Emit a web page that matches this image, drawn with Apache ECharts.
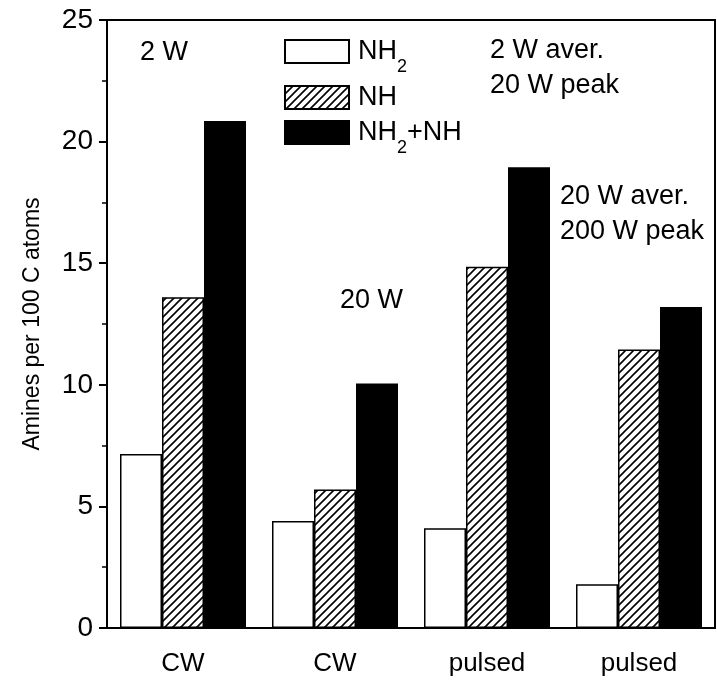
<!DOCTYPE html>
<html>
<head>
<meta charset="utf-8">
<script src="https://cdn.jsdelivr.net/npm/echarts@6/dist/echarts.min.js"></script>
<style>
	html, body { margin: 0; padding: 0; background: #fff; }
	#chart { width: 717px; height: 686px; }
</style>
</head>
<body>
<div id="chart"></div>
<script>
// values
var categories = ['CW', 'CW', 'pulsed', 'pulsed'];
var nh2 = [7.15, 4.4, 4.1, 1.8];
var nh = [13.6, 5.7, 14.85, 11.45];
var nh2PlusNh = [20.85, 10.05, 18.95, 13.2];
var yTicks = [0, 5, 10, 15, 20, 25];

var AmineChart = {
	init : function() {
		var chart = echarts.init(document.getElementById('chart'));
		chart.setOption(AmineChart.buildOption(), true);
	},
	/**
	 * diagonal hatch used for the NH bars
	 */
	hatch : function() {
		var c = document.createElement('canvas');
		c.width = 8;
		c.height = 8;
		var ctx = c.getContext('2d');
		ctx.fillStyle = '#fff';
		ctx.fillRect(0, 0, 8, 8);
		ctx.strokeStyle = '#000';
		ctx.lineWidth = 1.6;
		ctx.beginPath();
		ctx.moveTo(-2, 10); ctx.lineTo(10, -2);
		ctx.moveTo(-6, 6); ctx.lineTo(6, -6);
		ctx.moveTo(2, 14); ctx.lineTo(14, 2);
		ctx.stroke();
		return { image : c, repeat : 'repeat' };
	},
	legend : function(name, top) {
		return {
			data : [ name ],
			icon : 'rect',
			left : 284,
			top : top,
			padding : 0,
			itemWidth : 64,
			itemHeight : 23,
			textStyle : {
				fontFamily : 'Liberation Sans, Arial',
				fontSize : 27,
				color : '#000',
				padding : [ 0, 0, 0, 4 ],
				rich : {
					s : { fontSize : 18, fontFamily : 'Liberation Sans, Arial', padding : [ 32, 0, 0, 0 ] }
				}
			},
			formatter : function(n) {
				if (n === 'NH2') return 'NH{s|2}';
				if (n === 'NH2+NH') return 'NH{s|2}+NH';
				return n;
			}
		};
	},
	note : function(text, x, y) {
		return {
			type : 'text',
			left : x,
			top : y,
			style : {
				text : text,
				font : '27px "Liberation Sans", Arial',
				fill : '#000',
				lineHeight : 35
			}
		};
	},
	buildOption : function() {
		var font = 'Liberation Sans, Arial';
		var option = {
			animation : false,
			grid : {
				left : 107,
				right : 2,
				top : 20,
				bottom : 58,
				show : true,
				borderColor : '#000',
				borderWidth : 2
			},
			legend : [
				AmineChart.legend('NH2', 38),
				AmineChart.legend('NH', 84),
				AmineChart.legend('NH2+NH', 119)
			],
			xAxis : {
				type : 'category',
				data : categories,
				axisLine : { lineStyle : { color : '#000', width : 2 } },
				axisTick : { alignWithLabel : true, length : 8, lineStyle : { color : '#000', width : 2 } },
				axisLabel : { color : '#000', fontFamily : font, fontSize : 26, margin : 23 }
			},
			yAxis : {
				type : 'value',
				min : yTicks[0],
				max : yTicks[yTicks.length - 1],
				interval : 5,
				name : 'Amines per 100 C atoms',
				nameLocation : 'middle',
				nameRotate : 90,
				nameGap : 63,
				nameTextStyle : { color : '#000', fontFamily : font, fontSize : 23 },
				splitLine : { show : false },
				axisLine : { show : true, lineStyle : { color : '#000', width : 2 } },
				axisTick : { show : true, length : 8, lineStyle : { color : '#000', width : 2 } },
				minorTick : { show : true, splitNumber : 2, length : 5, lineStyle : { color : '#000', width : 1.5 } },
				axisLabel : { color : '#000', fontFamily : font, fontSize : 28, margin : 14 }
			},
			graphic : [
				AmineChart.note('2 W', 140, 35),
				AmineChart.note('2 W aver.\n20 W peak', 490, 33),
				AmineChart.note('20 W', 340, 283),
				AmineChart.note('20 W aver.\n200 W peak', 560, 179)
			],
			series : [ {
				name : 'NH2',
				type : 'bar',
				barWidth : 42,
				barGap : '0%',
				itemStyle : { color : '#fff', borderColor : '#000', borderWidth : 1.5 },
				data : nh2
			}, {
				name : 'NH',
				type : 'bar',
				barWidth : 42,
				barGap : '0%',
				itemStyle : { color : AmineChart.hatch(), borderColor : '#000', borderWidth : 1.5 },
				data : nh
			}, {
				name : 'NH2+NH',
				type : 'bar',
				barWidth : 42,
				barGap : '0%',
				itemStyle : { color : '#000', borderColor : '#000', borderWidth : 1.5 },
				data : nh2PlusNh
			} ]
		};
		return option;
	}
};
AmineChart.init();
</script>
</body>
</html>
